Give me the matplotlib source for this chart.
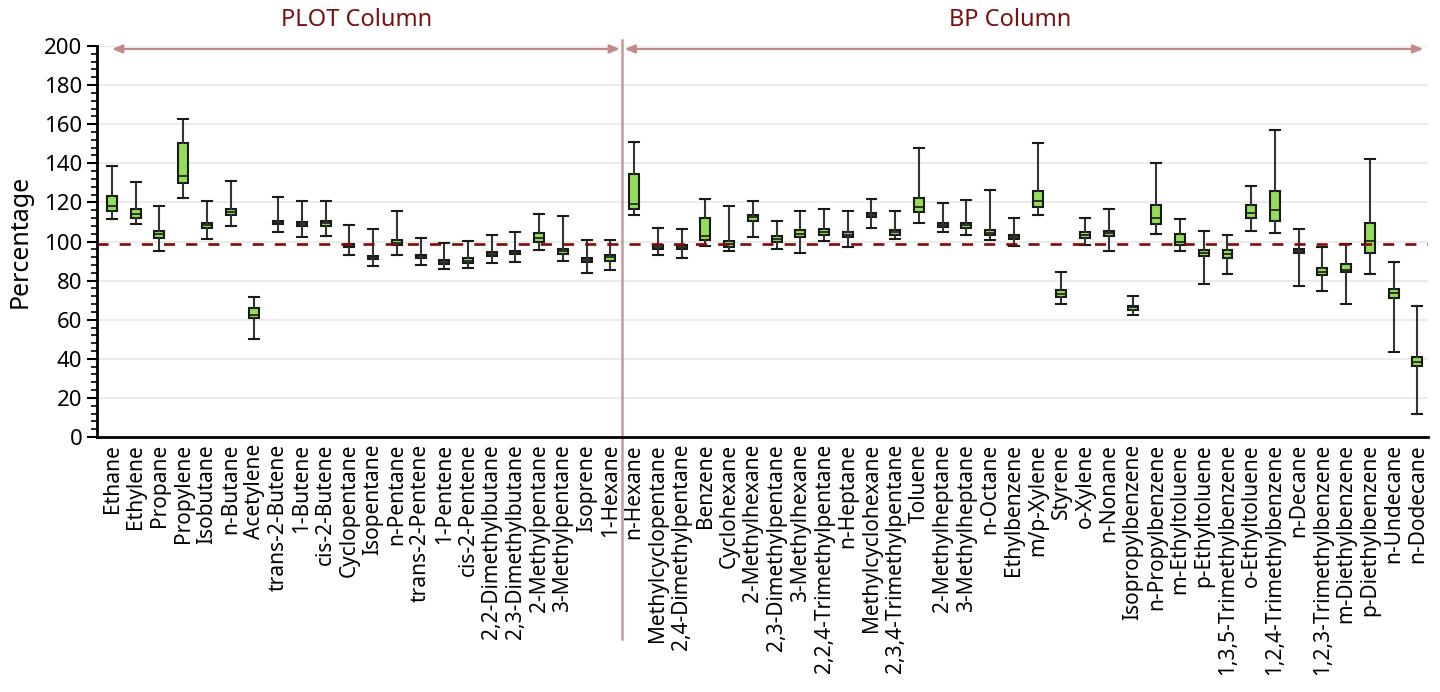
import matplotlib
matplotlib.use('Agg')
import matplotlib.pyplot as plt
from matplotlib.ticker import MultipleLocator

plt.rcParams['font.family'] = ['Noto Sans', 'DejaVu Sans']

# compounds, PLOT column first then BP column
compounds = ['Ethane', 'Ethylene', 'Propane', 'Propylene', 'Isobutane', 'n-Butane', 'Acetylene',
             'trans-2-Butene', '1-Butene', 'cis-2-Butene', 'Cyclopentane', 'Isopentane', 'n-Pentane',
             'trans-2-Pentene', '1-Pentene', 'cis-2-Pentene', '2,2-Dimethylbutane', '2,3-Dimethylbutane',
             '2-Methylpentane', '3-Methylpentane', 'Isoprene', '1-Hexane',
             'n-Hexane', 'Methylcyclopentane', '2,4-Dimethylpentane', 'Benzene', 'Cyclohexane',
             '2-Methylhexane', '2,3-Dimethylpentane', '3-Methylhexane', '2,2,4-Trimethylpentane',
             'n-Heptane', 'Methylcyclohexane', '2,3,4-Trimethylpentane', 'Toluene', '2-Methylheptane',
             '3-Methylheptane', 'n-Octane', 'Ethylbenzene', 'm/p-Xylene', 'Styrene', 'o-Xylene',
             'n-Nonane', 'Isopropylbenzene', 'n-Propylbenzene', 'm-Ethyltoluene', 'p-Ethyltoluene',
             '1,3,5-Trimethylbenzene', 'o-Ethyltoluene', '1,2,4-Trimethylbenzene', 'n-Decane',
             '1,2,3-Trimethylbenzene', 'm-Diethylbenzene', 'p-Diethylbenzene', 'n-Undecane', 'n-Dodecane']
n_plot = 22  # first 22 are on the PLOT column

whis_lo = [111.5, 109.0, 95.0, 122.1, 101.3, 108.1, 50.1, 104.7, 102.1, 103.0, 93.1, 87.5, 93.1,
           88.1, 85.8, 86.3, 89.0, 89.5, 95.7, 90.2, 83.9, 85.4,
           113.6, 92.9, 91.7, 97.9, 95.0, 102.1, 96.3, 94.1, 100.3, 97.2, 107.1, 101.1, 109.5, 104.7,
           103.5, 100.8, 97.9, 113.6, 67.9, 98.2, 95.0, 62.4, 103.7, 95.0, 78.3, 83.2, 105.5, 104.2,
           77.2, 74.7, 67.9, 83.2, 43.6, 11.8]
q1 = [115.4, 111.9, 101.9, 129.8, 106.7, 113.7, 60.7, 108.8, 107.7, 107.7, 97.0, 90.9, 98.1,
      91.4, 88.6, 89.2, 92.7, 93.4, 99.9, 93.4, 89.5, 90.0,
      116.5, 96.2, 96.2, 100.6, 97.2, 110.3, 99.7, 102.1, 103.1, 102.1, 112.4, 103.5, 114.9, 107.4,
      106.9, 103.1, 101.1, 117.5, 71.4, 101.6, 103.0, 65.1, 108.8, 98.1, 92.4, 91.4, 112.0, 110.3,
      94.3, 82.9, 84.2, 94.0, 71.3, 36.1]
median = [118.3, 113.9, 103.6, 133.5, 108.3, 115.3, 62.2, 109.6, 109.1, 109.3, 97.9, 91.9, 99.4,
          92.4, 89.7, 90.2, 93.6, 94.5, 101.9, 95.1, 90.5, 91.9,
          119.3, 97.2, 97.3, 102.6, 98.6, 112.4, 101.4, 104.0, 104.9, 103.5, 113.6, 104.7, 117.8, 108.6,
          108.3, 104.5, 102.3, 120.7, 73.1, 103.3, 104.2, 66.3, 112.0, 99.7, 94.1, 93.4, 114.7, 116.1,
          95.1, 84.6, 85.3, 100.4, 73.7, 38.5]
q3 = [123.1, 116.6, 105.2, 150.2, 109.6, 116.8, 65.8, 110.3, 110.1, 110.6, 98.9, 92.7, 100.6,
      93.2, 90.5, 91.6, 94.4, 95.3, 104.1, 96.2, 91.6, 92.9,
      134.5, 98.0, 98.4, 112.0, 100.4, 113.6, 102.6, 105.7, 106.2, 104.9, 114.6, 105.7, 122.4, 109.6,
      109.5, 105.7, 103.1, 125.8, 75.4, 104.7, 105.2, 67.2, 118.8, 103.7, 95.8, 95.7, 118.5, 125.8,
      96.0, 86.3, 88.5, 109.5, 75.9, 41.1]
whis_hi = [138.8, 130.6, 118.3, 162.8, 120.9, 131.1, 71.8, 122.6, 120.5, 120.9, 108.3, 106.6, 115.8,
           101.9, 99.4, 100.4, 103.5, 104.9, 114.1, 113.0, 100.6, 100.9,
           150.9, 106.7, 106.4, 121.9, 118.3, 120.5, 110.5, 115.8, 116.8, 115.8, 121.7, 115.8, 148.0, 119.7,
           121.2, 126.3, 112.0, 150.4, 84.4, 111.9, 116.5, 72.3, 140.2, 111.7, 105.5, 103.1, 128.2, 157.0,
           106.6, 97.0, 98.7, 142.2, 89.5, 67.2]
reference = 98.7

stats = []
for i in range(len(compounds)):
    stats.append({'whislo': whis_lo[i], 'q1': q1[i], 'med': median[i], 'q3': q3[i],
                  'whishi': whis_hi[i], 'fliers': []})

fig = plt.figure(figsize=(14.4, 6.92), dpi=100)
ax = fig.add_axes([0.0674, 0.3685, 0.9243, 0.565])

positions = list(range(len(compounds)))
ax.bxp(stats, positions=positions, widths=0.42, capwidths=0.42, patch_artist=True, showfliers=False,
       boxprops=dict(facecolor='#92dd5a', edgecolor='#1a1a1a', linewidth=1.5),
       medianprops=dict(color='#1a1a1a', linewidth=1.2),
       whiskerprops=dict(color='#333333', linewidth=1.5),
       capprops=dict(color='#1a1a1a', linewidth=1.5), zorder=3)

# reference line
ax.axhline(reference, color='#7b0c0c', linewidth=1.9, linestyle=(0, (4.2, 4.2)), zorder=4)

ax.set_xlim(-0.63, 55.45)
ax.set_ylim(0, 200)
ax.yaxis.set_major_locator(MultipleLocator(20))
ax.yaxis.set_minor_locator(MultipleLocator(4))
ax.grid(axis='y', color='#ebebeb', linewidth=1.5, zorder=0)
ax.set_axisbelow(True)

ax.set_xticks(positions)
ax.set_xticklabels(compounds, rotation=90, fontsize=15)
ax.tick_params(axis='x', length=0, pad=5)
ax.tick_params(axis='y', which='major', labelsize=16, length=7, width=1.5, direction='out')
ax.tick_params(axis='y', which='minor', length=4, width=1.2, direction='out')
ax.set_ylabel('Percentage', fontsize=18, labelpad=8)

for side in ['top', 'right']:
    ax.spines[side].set_visible(False)
ax.spines['left'].set_linewidth(2)
ax.spines['bottom'].set_linewidth(2)

# column divider and group arrows
split = n_plot - 0.5
ax.axvline(split, ymin=-0.517, ymax=1.015, color='#c49a9a', linewidth=1.8, clip_on=False, zorder=2)
arrow_kw = dict(arrowstyle='<|-|>,head_length=0.6,head_width=0.25', color='#c08a8a', lw=1.6,
                shrinkA=0, shrinkB=0)
ax.annotate('', xy=(0, 198.5), xytext=(split - 0.1, 198.5), arrowprops=arrow_kw, annotation_clip=False)
ax.annotate('', xy=(split + 0.1, 198.5), xytext=(55.25, 198.5), arrowprops=arrow_kw, annotation_clip=False)
ax.text(10.3, 213.5, 'PLOT Column', ha='center', va='center', fontsize=17,
        color='#7b1010', clip_on=False)
ax.text(37.85, 213.5, 'BP Column', ha='center', va='center', fontsize=17,
        color='#7b1010', clip_on=False)

plt.savefig('out.png', dpi=100)
plt.close()
